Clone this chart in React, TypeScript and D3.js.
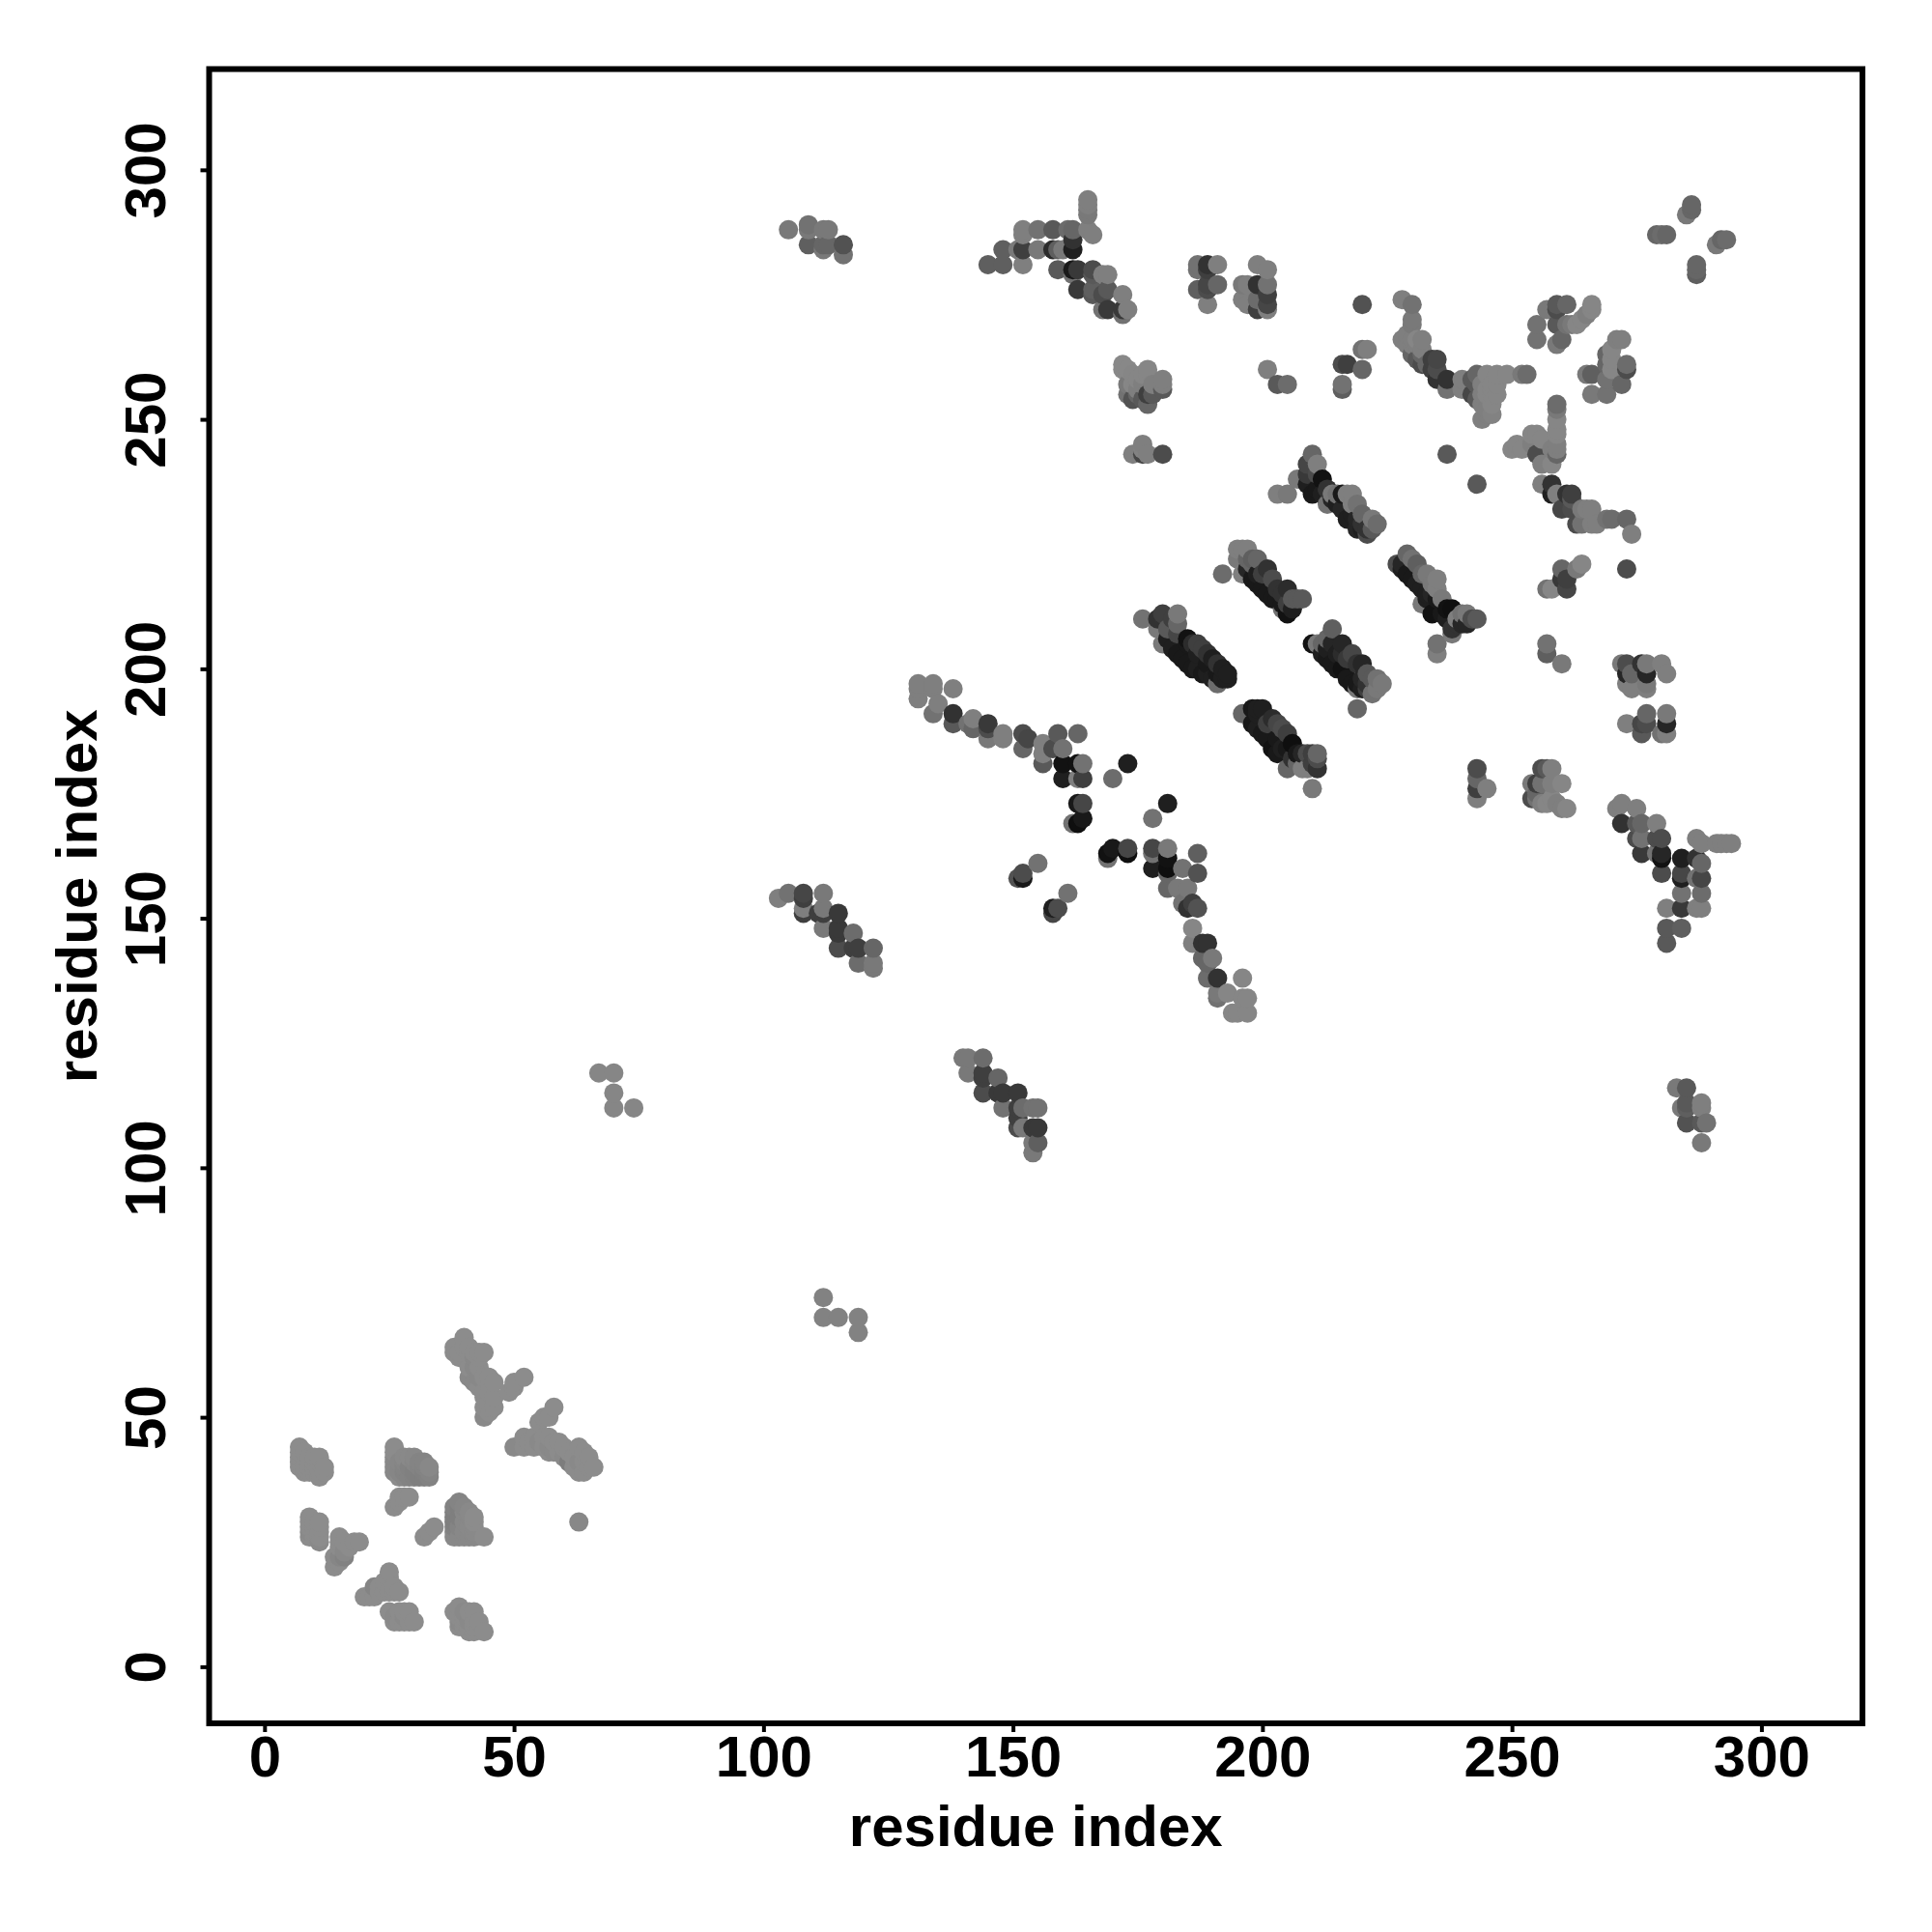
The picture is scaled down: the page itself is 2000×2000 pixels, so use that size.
import { useRef, useEffect } from "react";
import * as d3 from "d3";

type Contact = [number, number, number]; // residue i, residue j, strength 0..1

const tickValues = [0, 50, 100, 150, 200, 250, 300];
const axisLabel = "residue index";

// N-terminal domain, all weak
const nTermTop: Contact[] = [[38,64,0],[38,63,0],[39,63,0],[39,62,0],[40,66,0],[40,64,0],[41,64,0],[41,63,0],[42,62,.03],[42,63,0],[43,63,0],[43,62,0],[44,63,0],[41,60,0],[42,60,.03],[41,58,.03],[43,60,0],[43,58,.03],[44,58,0],[45,58,0],[42,57,.03],[43,56,0],[44,55,0],[44,54,0],[45,55,0],[45,53,0],[46,57,0],[46,54,0],[46,52,0],[44,52,0],[45,51,0],[45,52,0],[44,50,.02],[52,58,0],[50,57,0],[49,55,0],[50,56,0]];
const nTermBand: Contact[] = [[58,52,0],[56,50,0],[57,50,0],[55,49,0],[50,44,.02],[52,46,0],[52,44,0],[53,45,0],[54,46,0],[54,44,0],[55,45,.02],[56,44,0],[56,46,0],[57,46,0],[57,44,.02],[57,43,0],[58,45,0],[58,43,.02],[59,45,0],[59,43,0],[60,44,0],[60,42,.02],[61,43,0],[61,41,.12],[62,42,0],[62,40,0],[63,44,0],[63,41,.02],[63,39,0],[64,43,0],[64,41,0],[65,42,0],[65,40,0],[64,39,0],[66,40,0],[63,29,.03]];
const nTermLeft: Contact[] = [[7,44,0],[7,43,0],[8,43,0],[7,42,0],[7,41,0],[7,40,0],[8,42,0],[8,40,0],[8,39,0],[9,41,0],[9,40,0],[9,42,0],[10,42,0],[10,41,0],[10,40,0],[11,42,0],[11,41,0],[11,39,0],[11,38,0],[10,39,0],[12,39,0],[12,40,0],[9,39,0]];
const nTermCore: Contact[] = [[26,44,0],[26,43,0],[26,42,.03],[26,41,.03],[26,40,.03],[26,39,.03],[27,41,.04],[27,39,.05],[27,38,0],[28,42,.02],[28,41,.05],[28,40,.06],[28,39,.07],[28,38,.05],[29,42,.02],[29,40,.08],[29,38,.07],[30,42,.03],[30,41,.05],[30,39,.09],[30,38,.08],[31,41,.06],[31,40,.07],[31,38,.1],[32,41,.06],[32,40,.07],[32,39,.09],[32,38,.1],[33,40,.03],[33,39,.06],[33,38,.08],[28,34,0],[29,34,0],[27,34,0],[27,33,0],[26,32,0]];
const nTermCore2: Contact[] = [[38,32,.08],[38,31,.1],[38,30,.1],[38,29,.1],[38,28,.08],[38,27,.03],[38,26,.02],[39,33,.06],[39,32,.1],[39,30,.1],[39,28,.06],[39,26,.03],[40,32,.05],[40,31,.03],[40,29,.03],[40,27,.03],[40,26,.03],[41,31,.02],[41,30,.03],[41,28,.02],[41,26,.03],[42,30,0],[42,29,0],[42,28,.02],[42,27,.02],[42,26,.03],[44,26,0],[34,28,0],[33,27,0],[32,26,0]];
const nTermLower: Contact[] = [[9,30,0],[9,29,0],[9,28,0],[9,27,.02],[9,26,0],[10,29,0],[10,28,0],[10,27,0],[10,26,0],[11,29,0],[11,28,0],[11,27,0],[11,26,0],[11,25,.02],[15,26,0],[15,25,0],[16,25,0],[17,24,0],[19,25,0],[18,25,0],[15,24,0],[16,23,.03],[14,22,0],[15,22,.05],[16,22,.08],[14,20,0],[15,21,0],[25,19,0],[25,18,0],[24,17,0],[25,17,0],[26,16,0],[27,15,0],[26,15,0],[25,15,0],[24,15,0],[23,15,0],[22,14,0],[22,16,.06],[23,16,0],[20,14,0],[21,14,0]];
const nTermBottom: Contact[] = [[25,11,0],[29,11,0],[26,9,0],[30,9,0],[27,11,0],[28,11,0],[26,10,.02],[27,9,0],[28,9,0],[29,9,0],[28,10,.02],[39,12,0],[38,11,0],[39,11,0],[40,11,.02],[41,11,0],[42,11,0],[39,10,0],[40,10,0],[39,9,.02],[40,9,0],[41,9,.02],[42,9,0],[39,8,0],[40,8,0],[41,8,0],[42,8,0],[43,8,0],[41,7,0],[42,7,0],[44,7,0],[43,9,0]];

const isolated: Contact[] = [[112,74,.08],[112,70,.08],[115,70,.08],[119,70,.08],[119,67,.08],[67,119,.05],[70,119,.05],[70,115,.05],[70,112,.05],[74,112,.05],[237,243,.4],[243,237,.4],[273,220,.5],[257,205,.2],[257,203,.35],[260,201,.15],[235,205,.2],[235,203,.1],[220,273,.45],[192,219,.25],[219,192,.3],[176,210,.2],[210,176,.15]];

const sheetA: Contact[] = [[103,154,.1],[105,155,.2],[108,155,.55],[108,154,.6],[112,155,.15],[108,151,.6],[108,152,.1],[112,152,.15],[111,151,.6],[112,151,.6],[112,148,.15],[115,151,.65],[115,148,.65],[115,147,.65],[118,147,.25],[115,144,.5],[118,144,.6],[119,144,.6],[122,144,.3],[119,141,.25],[122,141,.15],[122,140,.15]];
const sheetB: Contact[] = [[140,122,.15],[141,122,.15],[144,122,.25],[141,119,.15],[144,119,.6],[144,118,.6],[147,118,.3],[144,115,.5],[147,115,.65],[148,115,.65],[151,115,.65],[148,112,.2],[151,112,.6],[151,110,.6],[152,112,.25],[154,112,.2],[155,112,.2],[151,108,.5],[152,108,.15],[154,108,.65],[155,108,.65],[155,105,.35],[154,105,.15],[154,103,.15]];
const sheetC: Contact[] = [[105,288,.15],[109,289,.2],[109,288,.15],[109,285,.35],[113,288,.15],[112,288,.15],[112,285,.3],[113,285,.3],[112,284,.15],[116,285,.45],[116,283,.2]];
const sheetD: Contact[] = [[286,293,.3],[286,292,.3],[285,291,.15],[279,287,.3],[280,287,.25],[281,287,.3],[293,286,.25],[292,286,.3],[291,285,.15],[287,281,.3],[287,280,.3],[287,279,.35]];

const topBand: Contact[] = [[165,294,.1],[165,293,.1],[165,292,.15],[165,291,.15],[152,288,.1],[152,287,.1],[155,288,.2],[158,288,.4],[161,288,.25],[162,288,.3],[162,286,.7],[165,288,.1],[166,287,.1],[148,284,.35],[152,284,.6],[151,284,.15],[155,284,.15],[158,284,.75],[159,284,.35],[160,284,.15],[162,284,.85],[145,281,.35],[148,281,.35],[152,281,.1],[159,280,.4],[162,280,.9],[163,280,.65],[162,279,.2],[166,280,.5],[166,279,.4],[169,279,.1],[168,279,.1],[163,276,.65],[166,276,.35],[166,275,.4],[169,276,.4],[168,275,.5],[172,275,.1],[169,272,.65],[168,272,.2],[172,272,.65],[172,271,.2],[173,272,.1]];
const topPairs: Contact[] = [[187,281,.2],[187,280,.2],[189,281,.7],[189,280,.6],[191,281,.1],[187,276,.35],[189,277,.55],[189,276,.5],[191,277,.3],[189,273,.1],[199,281,.1],[201,280,.1],[196,277,.15],[197,277,.1],[199,277,.7],[201,277,.2],[201,275,.6],[196,274,.1],[197,273,.1],[199,274,.25],[199,272,.6],[201,273,.55],[201,272,.1]];
const topBlob: Contact[] = [[172,261,.03],[172,260,.03],[173,260,.03],[174,259,.05],[177,260,.05],[177,259,.05],[180,258,.1],[180,256,.4],[180,257,.1],[174,254,.45],[177,255,.6],[177,253,.3],[176,254,.4],[173,257,.15],[173,255,.2],[174,257,.05],[175,258,.05],[176,257,.1],[175,256,.1],[176,259,.05],[175,255,.3],[178,255,.4],[178,257,.1],[174,243,.1],[176,245,.1],[176,244,.08],[177,243,.1],[180,243,.5],[176,243,.55],[201,260,.1],[203,257,.4],[205,257,.25],[216,261,.5],[216,257,.2],[216,256,.35],[217,261,.6],[220,260,.3],[220,264,.2],[221,264,.1]];
const upperDiag: Contact[] = [[228,274,.1],[230,273,.2],[230,270,.15],[230,269,.15],[229,267,.1],[230,266,.1],[231,266,.05],[232,266,.1],[228,266,.1],[229,265,.1],[230,265,.1],[231,265,.1],[232,264,.1],[230,263,.3],[231,262,.4],[232,263,.3],[232,261,.5],[233,261,.3],[234,262,.6],[235,262,.55],[235,260,.5],[234,260,.6],[235,258,.7],[237,258,.7],[237,256,.2]];
const upperBlob: Contact[] = [[240,258,.1],[240,256,.1],[243,259,.3],[245,259,.05],[247,259,.05],[249,259,.05],[253,259,.25],[252,259,.15],[242,255,.55],[244,257,.1],[246,255,.05],[246,253,.05],[245,252,.1],[245,251,.1],[244,250,.1],[245,255,.05],[244,253,.1],[246,257,.05],[247,257,.05],[246,256,.05],[247,255,.05],[243,254,.4],[244,255,.1],[245,256,.05],[246,251,.08],[243,257,.4],[242,258,.4]];
const upperRight: Contact[] = [[259,253,.25],[259,252,.15],[259,250,.05],[259,248,.05],[259,247,.05],[259,245,.1],[250,244,.05],[251,245,.05],[252,244,.05],[254,247,.05],[255,247,.05],[256,246,.05],[254,245,.1],[255,243,.5],[256,241,.1],[258,241,.05],[259,243,.3],[258,244,.1],[259,244,.1],[256,237,.1],[258,237,.7],[258,235,.85],[259,235,.1],[261,235,.7],[262,235,.6],[262,234,.4],[260,232,.55],[262,232,.5],[263,229,.5],[264,232,.15],[265,232,.1],[266,232,.1],[264,229,.2],[266,229,.1],[267,229,.1],[269,230,.2],[270,230,.25],[273,230,.3],[274,227,.1],[264,221,.05],[263,220,.15],[260,220,.3],[261,218,.6],[260,218,.65],[261,216,.55],[257,216,.2],[258,216,.05]];
const farRight: Contact[] = [[257,272,.15],[255,269,.2],[255,266,.2],[259,273,.4],[261,273,.3],[259,272,.5],[259,269,.4],[261,269,.2],[262,269,.15],[263,269,.05],[264,270,.05],[265,271,.1],[266,273,.05],[266,272,.05],[259,265,.15],[260,266,.3],[272,266,.1],[271,266,.1],[270,264,.05],[269,263,.3],[269,261,.3],[270,262,.05],[273,261,.25],[273,260,.5],[266,259,.35],[265,259,.15],[269,258,.2],[272,257,.3],[266,255,.15],[269,255,.2],[270,260,.05]];

const stripeA: Contact[] = [[210,243,.3],[211,241,.1],[209,241,.55],[207,238,.15],[203,235,.1],[205,235,.15],[209,239,.65],[209,237,.85],[212,238,.95],[210,235,.9],[213,233,.2],[214,235,.15],[216,235,.9],[217,235,.1],[218,235,.1],[216,232,.8],[218,233,.1],[217,230,.85],[219,233,.2],[220,231,.3],[219,228,.8],[221,227,.5],[222,230,.15],[223,229,.25],[221,228,.7],[220,228,.85],[211,236,.9],[212,235,.85],[214,234,.8],[215,233,.85],[218,231,.85],[219,230,.8],[220,229,.7],[222,228,.4],[213,236,.7],[211,239,.5],[215,235,.2]];
const stripeB: Contact[] = [[195,224,.1],[196,224,.1],[197,224,.1],[195,222,.15],[196,219,.1],[198,222,.35],[197,220,.8],[201,220,.7],[199,217,.9],[202,218,.5],[201,215,.9],[205,216,.75],[206,214,.4],[208,214,.4],[205,211,.95],[204,213,.9],[204,212,.2],[199,219,.85],[203,214,.9],[198,218,.9],[200,216,.9],[202,214,.9],[203,216,.7],[200,219,.6],[204,215,.7],[207,214,.4],[206,212,.85],[205,213,.6],[198,221,.3],[199,222,.3],[197,222,.3]];
const stripeC: Contact[] = [[229,223,.3],[227,221,.5],[228,221,.8],[230,222,.2],[231,221,.35],[229,219,.9],[233,219,.15],[231,217,.85],[235,218,.1],[235,216,.1],[232,213,.15],[234,215,.8],[236,214,.15],[234,211,.95],[238,212,.98],[236,211,.9],[238,208,.7],[238,207,.15],[239,210,.1],[241,211,.15],[241,209,.8],[243,210,.4],[230,218,.9],[232,216,.85],[233,215,.85],[228,220,.85],[232,219,.3],[234,217,.15],[235,214,.9],[237,212,.95],[237,210,.85],[239,209,.7],[240,211,.2],[240,209,.8],[242,210,.5],[233,214,.85]];
const stripeD: Contact[] = [[180,211,.6],[179,210,.7],[179,208,.15],[180,205,.15],[183,211,.15],[183,209,.3],[183,207,.55],[185,206,.95],[183,203,.9],[188,204,.6],[186,200,.9],[190,202,.85],[188,199,.9],[192,200,.85],[192,198,.85],[191,197,.25],[185,205,.9],[187,203,.85],[189,201,.9],[191,199,.9],[181,206,.85],[182,204,.85],[184,202,.9],[185,201,.9],[187,200,.85],[189,199,.85],[190,198,.85],[181,208,.4],[182,210,.6],[186,205,.75],[187,205,.6],[189,203,.7],[191,201,.7],[193,199,.85],[193,198,.85]];
const stripeE: Contact[] = [[198,192,.9],[199,192,.85],[200,192,.85],[196,191,.3],[198,189,.9],[202,190,.75],[200,187,.9],[204,188,.5],[202,184,.95],[206,185,.98],[208,183,.8],[209,183,.5],[211,183,.3],[205,180,.3],[208,180,.1],[209,180,.1],[211,180,.7],[204,184,.85],[199,188,.85],[201,186,.9],[203,186,.9],[203,183,.9],[205,184,.9],[207,183,.9],[201,189,.6],[203,189,.55],[205,187,.6],[206,182,.7],[207,181,.3],[199,191,.85],[210,181,.6],[210,183,.6],[211,182,.5]];
const stripeF: Contact[] = [[214,208,.35],[210,205,.95],[211,205,.15],[213,206,.3],[216,205,.8],[215,203,.85],[218,203,.55],[216,200,.95],[220,201,.8],[218,197,.9],[221,199,.4],[220,196,.85],[219,196,.15],[223,196,.15],[222,195,.2],[212,203,.85],[213,202,.9],[214,201,.9],[215,200,.9],[217,198,.9],[219,197,.9],[212,205,.3],[214,205,.8],[216,203,.75],[217,202,.65],[219,201,.7],[220,198,.8],[221,197,.7],[222,198,.4],[223,198,.2],[224,197,.15],[221,196,.6],[213,204,.85]];

const rightBlocks: Contact[] = [[272,201,.15],[273,201,.5],[273,199,.8],[277,201,.15],[276,201,.7],[277,199,.8],[280,201,.1],[281,199,.1],[274,199,.3],[273,197,.1],[274,196,.1],[277,197,.15],[277,196,.1],[277,191,.3],[281,191,.15],[276,189,.55],[273,189,.1],[277,189,.5],[281,189,.8],[276,187,.4],[280,187,.2],[281,187,.1],[243,180,.5],[243,178,.3],[243,176,.6],[245,176,.1],[243,174,.1],[256,180,.5],[257,180,.4],[258,180,.1],[254,177,.15],[255,177,.6],[258,177,.1],[260,177,.05],[254,174,.5],[255,174,.2],[257,173,.05],[259,173,.1],[261,172,.05],[260,172,.1],[256,173,.1],[258,174,.05],[256,177,.2],[255,175,.3]];
const rightTail: Contact[] = [[271,172,.1],[272,173,.1],[272,169,.7],[275,172,.1],[275,169,.4],[276,169,.3],[275,166,.5],[276,166,.2],[279,169,.1],[276,163,.65],[279,166,.5],[280,166,.5],[279,163,.2],[280,163,.8],[280,162,.95],[280,159,.5],[284,162,.85],[284,159,.55],[284,158,.85],[284,155,.2],[284,152,.65],[284,148,.35],[281,152,.1],[281,148,.4],[281,145,.4],[287,166,.1],[288,165,.1],[287,162,.7],[288,161,.3],[288,158,.55],[287,158,.2],[288,155,.25],[287,152,.1],[288,152,.1],[291,165,.1],[292,165,.1],[293,165,.1],[294,165,.1],[283,116,.15],[285,116,.4],[285,112,.35],[284,112,.15],[285,113,.4],[288,113,.1],[288,112,.1],[285,109,.45],[288,109,.4],[289,109,.2],[288,105,.15]];

const midBand: Contact[] = [[131,197,.1],[131,196,.1],[131,194,.1],[134,197,.1],[134,196,.1],[138,196,.1],[135,193,.1],[134,191,.2],[138,191,.7],[138,189,.4],[142,190,.1],[141,189,.2],[142,188,.3],[145,189,.65],[145,188,.5],[145,186,.15],[148,187,.1],[148,186,.1],[152,187,.5],[152,184,.3],[153,186,.55],[156,185,.1],[156,183,.1],[156,181,.4],[159,187,.4],[160,184,.2],[158,184,.5],[160,181,.95],[160,178,.85],[163,187,.3],[163,178,.1],[164,181,.2],[163,181,.95],[164,178,.6],[173,181,.85],[170,178,.25]];
const midCross: Contact[] = [[163,173,.9],[164,173,.55],[162,169,.2],[163,169,.98],[164,170,.9],[181,173,.85],[178,170,.2],[169,162,.2],[169,163,.95],[170,164,.9],[173,163,.98],[173,164,.55],[178,164,.55],[178,163,.2],[178,160,.85],[181,164,.15],[181,162,.95],[181,160,.98],[187,163,.35],[187,159,.45],[184,160,.2],[181,159,.3],[155,161,.2],[152,159,.5],[151,158,.45],[152,158,.9],[161,155,.2],[159,152,.5],[158,152,.85],[158,151,.55]];
const midTail: Contact[] = [[181,156,.3],[183,156,.15],[185,156,.15],[184,153,.2],[185,152,.7],[186,153,.6],[187,152,.45],[186,148,.05],[186,145,.1],[188,145,.7],[189,145,.7],[190,142,.15],[188,142,.3],[189,141,.3],[189,138,.25],[191,138,.7],[196,138,.05],[191,135,.15],[193,135,.05],[191,134,.2],[196,134,.05],[197,134,.05],[194,131,.05],[195,131,.05],[197,131,.05]];

const contacts: Contact[] = [
  ...nTermTop, ...nTermBand, ...nTermLeft, ...nTermCore, ...nTermCore2, ...nTermLower, ...nTermBottom,
  ...isolated, ...sheetA, ...sheetB, ...sheetC, ...sheetD, ...topBand, ...topPairs, ...topBlob,
  ...upperDiag, ...upperBlob, ...upperRight, ...farRight,
  ...stripeA, ...stripeB, ...stripeC, ...stripeD, ...stripeE, ...stripeF,
  ...rightBlocks, ...rightTail, ...midBand, ...midCross, ...midTail,
].sort((a, b) => d3.ascending(a[0], b[0]) || d3.ascending(a[1], b[1]));

export default function App() {
  const svgRef = useRef<SVGSVGElement>(null);

  // frame of the plot, in page pixels
  const left = 216.5;
  const right = 1928;
  const top = 71.5;
  const bottom = 1784;

  useEffect(() => {
    if (!svgRef.current) return;
    const svg = d3.select(svgRef.current);
    svg.selectAll("*").remove();

    const xScale = d3.scaleLinear().domain([-11.1, 320.25]).range([left, right]);
    const yScale = d3.scaleLinear().domain([-11.35, 320.2]).range([bottom, top]);
    const shade = d3.scaleLinear<string>().domain([0, 1]).range(["#8c8c8c", "#0c0c0c"]);

    svg
      .append("g")
      .selectAll("circle")
      .data(contacts)
      .join("circle")
      .attr("cx", (d) => xScale(d[0]))
      .attr("cy", (d) => yScale(d[1]))
      .attr("r", 10)
      .attr("fill", (d) => shade(d[2]));

    svg
      .append("rect")
      .attr("x", left)
      .attr("y", top)
      .attr("width", right - left)
      .attr("height", bottom - top)
      .attr("fill", "none")
      .attr("stroke", "#000")
      .attr("stroke-width", 6);

    // Axes
    const xAxis = svg
      .append("g")
      .attr("transform", `translate(0, ${bottom})`)
      .call(d3.axisBottom(xScale).tickValues(tickValues).tickSize(9).tickPadding(0).tickSizeOuter(0));
    xAxis.select(".domain").remove();
    xAxis.selectAll(".tick line").attr("stroke", "#000").attr("stroke-width", 4);
    xAxis
      .selectAll(".tick text")
      .attr("y", 55)
      .attr("dy", 0)
      .attr("font-family", "'Liberation Sans', sans-serif")
      .attr("font-weight", 700)
      .attr("font-size", 60)
      .attr("fill", "#000");

    const yAxis = svg
      .append("g")
      .attr("transform", `translate(${left}, 0)`)
      .call(d3.axisLeft(yScale).tickValues(tickValues).tickSize(9).tickPadding(0).tickSizeOuter(0));
    yAxis.select(".domain").remove();
    yAxis.selectAll(".tick line").attr("stroke", "#000").attr("stroke-width", 4);
    yAxis
      .selectAll(".tick text")
      .attr("x", 0)
      .attr("dy", 0)
      .attr("transform", "translate(-45.5, 0) rotate(-90)")
      .attr("text-anchor", "middle")
      .attr("font-family", "'Liberation Sans', sans-serif")
      .attr("font-weight", 700)
      .attr("font-size", 60)
      .attr("fill", "#000");

    svg
      .append("text")
      .attr("x", (left + right) / 2)
      .attr("y", 1911)
      .attr("text-anchor", "middle")
      .attr("font-family", "'Liberation Sans', sans-serif")
      .attr("font-weight", 700)
      .attr("font-size", 60)
      .text(axisLabel);

    svg
      .append("text")
      .attr("transform", `translate(100, ${(top + bottom) / 2}) rotate(-90)`)
      .attr("text-anchor", "middle")
      .attr("font-family", "'Liberation Sans', sans-serif")
      .attr("font-weight", 700)
      .attr("font-size", 60)
      .text(axisLabel);
  }, []);

  return (
    <svg
      ref={svgRef}
      width={2000}
      height={2000}
      viewBox="0 0 2000 2000"
      style={{ position: "absolute", left: 0, top: 0, background: "#fff" }}
    />
  );
}
